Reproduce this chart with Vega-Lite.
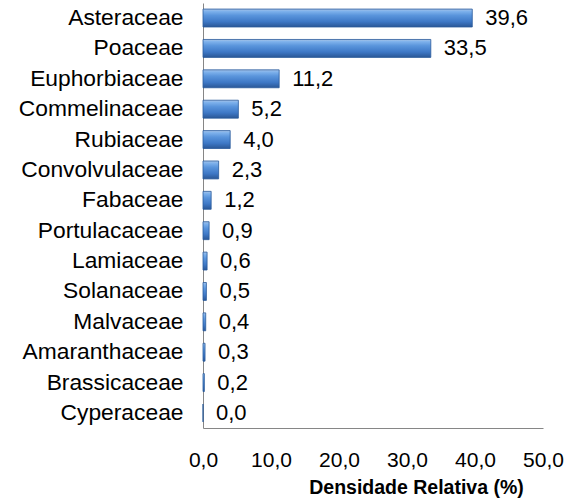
{
  "$schema": "https://vega.github.io/schema/vega-lite/v6.json",
  "autosize": "none",
  "padding": {"left": 203, "top": 3, "right": 28, "bottom": 73},
  "width": 340,
  "height": 425,
  "config": {
    "view": {"stroke": null},
    "font": "Liberation Sans",
    "locale": {"number": {"decimal": ",", "thousands": ".", "grouping": [3], "currency": ["R$", ""]}}
  },
  "data": {
    "values": [
      {"familia": "Asteraceae", "densidade": 39.6},
      {"familia": "Poaceae", "densidade": 33.5},
      {"familia": "Euphorbiaceae", "densidade": 11.2},
      {"familia": "Commelinaceae", "densidade": 5.2},
      {"familia": "Rubiaceae", "densidade": 4.0},
      {"familia": "Convolvulaceae", "densidade": 2.3},
      {"familia": "Fabaceae", "densidade": 1.2},
      {"familia": "Portulacaceae", "densidade": 0.9},
      {"familia": "Lamiaceae", "densidade": 0.6},
      {"familia": "Solanaceae", "densidade": 0.5},
      {"familia": "Malvaceae", "densidade": 0.4},
      {"familia": "Amaranthaceae", "densidade": 0.3},
      {"familia": "Brassicaceae", "densidade": 0.2},
      {"familia": "Cyperaceae", "densidade": 0.0}
    ]
  },
  "encoding": {
    "y": {
      "field": "familia",
      "type": "nominal",
      "sort": null,
      "scale": {"paddingInner": 0.41, "paddingOuter": 0.2},
      "axis": {
        "title": null,
        "ticks": false,
        "domainColor": "#868686",
        "domainWidth": 1,
        "labelFontSize": 22.8,
        "labelColor": "#000000",
        "labelPadding": 20,
        "labelLimit": 0
      }
    },
    "x": {
      "field": "densidade",
      "type": "quantitative",
      "scale": {"domain": [0, 50], "nice": false},
      "axis": {
        "title": "Densidade Relativa (%)",
        "values": [0, 10, 20, 30, 40, 50],
        "format": ".1f",
        "grid": false,
        "ticks": false,
        "domainColor": "#868686",
        "domainWidth": 1,
        "labelFontSize": 21,
        "labelColor": "#000000",
        "labelPadding": 21,
        "labelFlush": false,
        "titleFontSize": 19.5,
        "titleFontWeight": "bold",
        "titleColor": "#000000",
        "titleX": 213,
        "titleY": 59,
        "titleBaseline": "middle",
        "titleAlign": "center"
      }
    }
  },
  "layer": [
    {
      "mark": {
        "type": "bar",
        "stroke": "#2a5a9c",
        "strokeWidth": 0.8,
        "color": {
          "gradient": "linear",
          "x1": 0, "y1": 0, "x2": 0, "y2": 1,
          "stops": [
            {"offset": 0, "color": "#a9c4e6"},
            {"offset": 0.12, "color": "#7fb2ec"},
            {"offset": 0.35, "color": "#5a95dc"},
            {"offset": 0.7, "color": "#3e78c6"},
            {"offset": 1, "color": "#2a5796"}
          ]
        }
      }
    },
    {
      "mark": {"type": "text", "align": "left", "baseline": "middle", "dx": 13, "fontSize": 22, "color": "#000000"},
      "encoding": {
        "text": {"field": "densidade", "type": "quantitative", "format": ".1f"}
      }
    }
  ]
}
